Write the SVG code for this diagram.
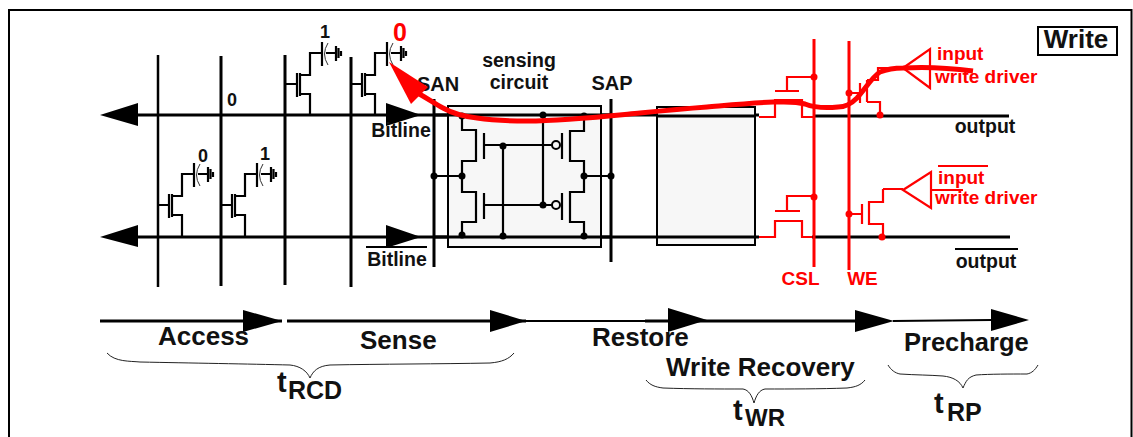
<svg xmlns="http://www.w3.org/2000/svg" width="1133" height="437" viewBox="0 0 1133 437">
<style>
text{font-family:"Liberation Sans",Arial,sans-serif;font-weight:bold;fill:#111}
.w{fill:none;stroke:#000;stroke-width:2.200}
.k{fill:none;stroke:#000;stroke-width:3}
.r{fill:none;stroke:#f00;stroke-width:2.200}
.rl{fill:none;stroke:#f00;stroke-width:3}
.rt{fill:#f00;font-size:19px}
.lb{font-size:26px}
.ns{font-size:18px}
.sm{font-size:19.500px}
.br{fill:none;stroke:#222;stroke-width:1}
</style>
<defs>
<g id="cell">
<path class="w" d="M0 0H12M15 -9H25V-31H37M15 10H25V31"/>
<path d="M12 -11V13M15 -11V12M37 -42V-18" class="w"/>
<path d="M43 -41Q36 -30 43 -19" stroke="#333" stroke-width="1" fill="none"/>
<path d="M41 -31H51M51 -38V-23M53.500 -36V-26M56 -33V-28" class="w"/>
</g>
</defs>
<g id="frame">
<path d="M9 437V10H1131.500V437" fill="none" stroke="#000" stroke-width="2"/>
</g>
<g id="write-label">
<rect x="1038" y="27" width="79" height="28" fill="#fff" stroke="#000" stroke-width="2"/>
<text x="1076" y="48" font-size="26" text-anchor="middle">Write</text>
</g>
<g id="connectors">
<path d="M158 55V287" stroke="#000" stroke-width="2.500" fill="none"/>
<path d="M221 56V286M285 55V285M351 57V287M434 99V267M611 99V262" class="k"/>
<path d="M125 115H759M125 237H759M814 116H1009M812 237H1010" class="k"/>
<path d="M100 115L138 103V126ZM100 237L138 225V247ZM386 103L421 115L386 126ZM386 225L421 237L386 248Z" fill="#000"/>
<path d="M100 321H282M287 321H526M645 321H860" class="k"/>
<path d="M526 321L645 321M893 321L991 320" stroke="#000" stroke-width="2" fill="none"/>
<path d="M243 310L282 321L243 332ZM490 310L526 321L490 332ZM668 308L707 320L668 332ZM855 310L894 321L855 332ZM991 309L1029 320L991 331Z" fill="#000"/>
</g>
<g id="cells">
<use href="#cell" x="285" y="84"/>
<use href="#cell" x="350" y="84"/>
<use href="#cell" x="157" y="205"/>
<use href="#cell" x="220" y="205"/>
<text x="232" y="106" class="ns" text-anchor="middle">0</text>
<text x="325" y="38" class="ns" text-anchor="middle">1</text>
<text x="203" y="162" class="ns" text-anchor="middle">0</text>
<text x="265" y="160" class="ns" text-anchor="middle">1</text>
<text x="400" y="41" font-size="25" text-anchor="middle" style="fill:#f00">0</text>
</g>
<g id="sensing-circuit">
<rect x="448" y="106" width="153" height="141" fill="#f7f7f7" stroke="#000" stroke-width="2"/>
<path d="M434 115H611M434 237H611" class="k"/>
<path d="M462 117V130H476V161H462V192H476V222H462V236M584 117V131H570V161H584V192H570V222H584V236" class="w"/>
<path d="M484 133V159M484 193V219M562 133V159M562 193V220M484 145H552M484 205H552M503 145V236M543 115V205M434 176H462M584 176H611" class="w"/>
<circle cx="556" cy="145" r="4" fill="#f7f7f7" stroke="#000" stroke-width="2"/>
<circle cx="556" cy="205" r="4" fill="#f7f7f7" stroke="#000" stroke-width="2"/>
<g fill="#000">
<circle cx="462" cy="116" r="3.500"/><circle cx="543" cy="115" r="3.500"/><circle cx="584" cy="116" r="3.500"/>
<circle cx="503" cy="146" r="3.500"/><circle cx="543" cy="205" r="3.500"/>
<circle cx="434" cy="176" r="3.500"/><circle cx="462" cy="176" r="3.500"/><circle cx="584" cy="176" r="3.500"/><circle cx="611" cy="176" r="3.500"/>
<circle cx="462" cy="235" r="3.500"/><circle cx="503" cy="236" r="3.500"/><circle cx="584" cy="236" r="3.500"/>
</g>
<text x="519" y="66.800" class="sm" text-anchor="middle">sensing</text>
<text x="519" y="88.500" class="sm" text-anchor="middle">circuit</text>
</g>
<g id="labels">
<text x="438" y="91" font-size="20" text-anchor="middle">SAN</text>
<text x="612" y="90" font-size="20" text-anchor="middle">SAP</text>
<text x="401" y="137" class="sm" text-anchor="middle">Bitline</text>
<text x="397" y="266" class="sm" text-anchor="middle">Bitline</text>
<path d="M366 247H427M955 249H1018" stroke="#000" stroke-width="2"/>
<text x="985" y="133" class="sm" text-anchor="middle">output</text>
<text x="986" y="268" class="sm" text-anchor="middle">output</text>
</g>
<g id="isolation-block"><rect x="657" y="107" width="98" height="138" fill="#f7f7f7" stroke="#000" stroke-width="2"/>
<path d="M657 116H755M657 237H755" class="k"/></g>
<g id="write-driver">
<path d="M814 39V267M849 41V270" class="rl"/>
<path class="r" d="M759 117H775V100H802V117H814M775 91H799M787 91V77H814"/>
<path class="r" d="M759 237H775V221H802V237H812M775 211H800M787 211V196H814"/>
<path class="r" d="M849 93H860M860 83V103M867 80V102M867 80H878V68H903M867 102H880V116"/>
<path class="r" d="M849 214H862M862 204V224M883 189V202H869V224H883V237M883 189H903"/>
<path d="M903 68L930 49V88ZM930 68H953" class="r"/>
<path d="M903 190L931 172V208ZM931 190H963" class="r"/>
<g fill="#f00">
<circle cx="814" cy="77" r="3.500"/><circle cx="849" cy="93" r="3.500"/><circle cx="880" cy="115" r="3.500"/>
<circle cx="814" cy="197" r="3.500"/><circle cx="849" cy="214" r="3.500"/><circle cx="882" cy="237" r="3.500"/>
</g>
<path d="M938 166H988" stroke="#f00" stroke-width="2"/>
<text class="rt" x="937" y="60">input</text>
<text class="rt" x="935" y="83">write driver</text>
<text class="rt" x="938" y="184">input</text>
<text class="rt" x="935" y="204">write driver</text>
<text class="rt" x="800.500" y="285" text-anchor="middle">CSL</text>
<text class="rt" x="862.500" y="285" text-anchor="middle">WE</text>
</g>
<g id="write-path">
<path d="M973 71C950 68 920 67 903 68C890 68 885 70 880 72C872 77 866 88 857 98C850 105 845 107 838 107C828 108 815 108 805 104C795 101 785 102 773 102C750 103 730 105 707 107C680 109 660 111 640 113C600 117 565 121 527 121C505 121 490 120 477 118C460 116 450 112 443 108C435 104 430 100 416 92" fill="none" stroke="#f00" stroke-width="5"/>
<path d="M389 62L428 87L411 104Z" fill="#f00"/>
</g>
<g id="timing">
<text x="158" y="345" class="lb">Access</text>
<text x="360" y="349" class="lb">Sense</text>
<text x="592" y="346" class="lb">Restore</text>
<text x="666" y="376" class="lb">Write Recovery</text>
<text x="904" y="351" font-size="25.500">Precharge</text>
<path class="br" d="M107 353C115 362 130 361 140 362C190 363 250 364 290 365C300 366 307 371 310 378C313 371 318 366 330 365C380 364 440 364 490 363C502 362 509 359 514 353"/>
<path class="br" d="M646 380C650 385 655 387 663 388C690 389 720 389 743 389C749 390 752 396 754 403C756 396 759 390 765 389C790 389 820 389 847 388C856 387 861 385 865 380"/>
<path class="br" d="M888 365C891 370 895 373 900 374C915 375 930 375 943 376C953 377 960 381 963 388C966 381 968 377 976 375C990 374 1010 374 1027 374C1032 373 1035 370 1038 365"/>
<text x="277" y="392" font-size="29">t</text><text x="288" y="399" font-size="25">RCD</text>
<text x="733" y="420" font-size="29">t</text><text x="745" y="426" font-size="24">WR</text>
<text x="934" y="413" font-size="29">t</text><text x="947" y="421" font-size="25">RP</text>
</g>
</svg>
